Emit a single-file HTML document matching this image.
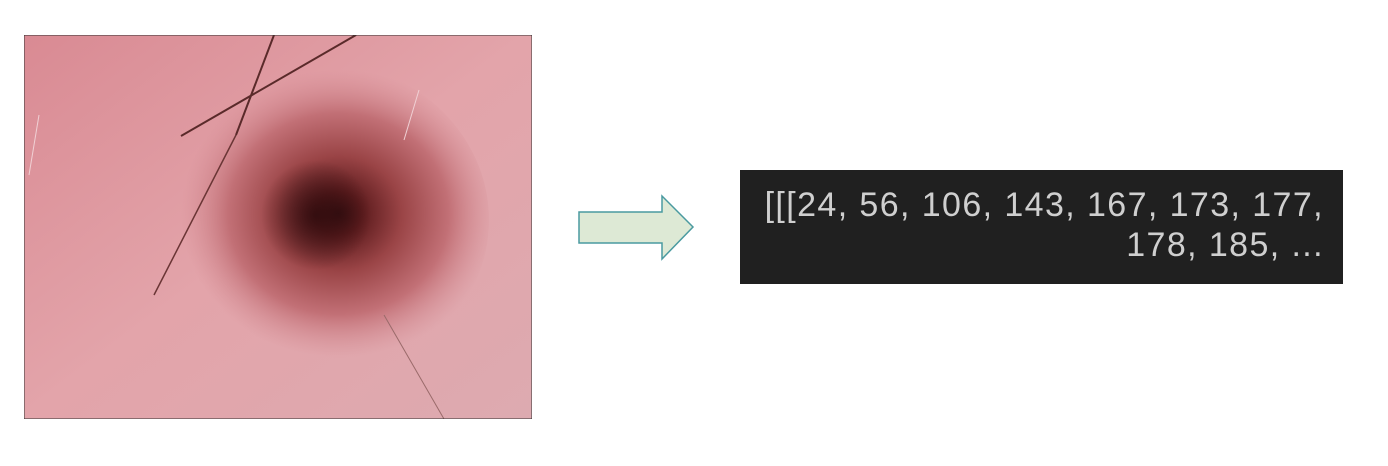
<!DOCTYPE html>
<html><head><meta charset="utf-8"><style>
html,body{margin:0;padding:0;background:#fff;width:1388px;height:466px;overflow:hidden;position:relative;font-family:"Liberation Sans",sans-serif}
#lesion{position:absolute;left:24px;top:35px;width:508px;height:384px}
#arrow{position:absolute;left:0;top:0}
#code{position:absolute;left:740px;top:170px;width:603px;height:114px;background:#202020;box-sizing:border-box}
#code div{position:absolute;right:19px;color:#cfcfcf;font-size:34px;white-space:nowrap;letter-spacing:1.4px}
</style></head><body>
<svg id="lesion" width="508" height="384" viewBox="0 0 508 384">
<defs>
<radialGradient id="g1" cx="0.57" cy="0.48" r="0.45">
<stop offset="0" stop-color="#3a1012"/><stop offset="0.15" stop-color="#5e1c1e"/><stop offset="0.4" stop-color="#9a4446"/><stop offset="0.7" stop-color="#c27076"/><stop offset="1" stop-color="#d48c93" stop-opacity="0"/>
</radialGradient>
<radialGradient id="g2" cx="0.5" cy="0.5" r="0.5">
<stop offset="0" stop-color="#2a0a0c" stop-opacity="0.8"/><stop offset="1" stop-color="#2a0a0c" stop-opacity="0"/>
</radialGradient>
<linearGradient id="bg" x1="0" y1="0" x2="1" y2="1"><stop offset="0" stop-color="#d98a93"/><stop offset="0.5" stop-color="#e3a4aa"/><stop offset="1" stop-color="#ddaab0"/></linearGradient>
</defs>
<rect width="508" height="384" fill="url(#bg)"/>
<ellipse cx="290" cy="185" rx="175" ry="160" fill="url(#g1)"/>
<ellipse cx="292" cy="180" rx="55" ry="55" fill="url(#g2)"/>
<line x1="250" y1="0" x2="212" y2="100" stroke="#5a2a2a" stroke-width="2"/>
<line x1="212" y1="100" x2="130" y2="260" stroke="#6a3535" stroke-width="1.5"/>
<line x1="332" y1="0" x2="157" y2="101" stroke="#5a2a2a" stroke-width="2"/>
<line x1="360" y1="280" x2="420" y2="384" stroke="#9a6a6a" stroke-width="1"/>
<line x1="395" y1="55" x2="380" y2="105" stroke="#f0d0d4" stroke-width="1"/>
<line x1="15" y1="80" x2="5" y2="140" stroke="#f0d0d4" stroke-width="1"/>
<rect width="508" height="384" fill="none" stroke="#333" stroke-width="1"/>
</svg>
<svg id="arrow" width="1388" height="466">
<polygon points="579,212 662,212 662,196 693,227 662,259 662,243 579,243" fill="#dde9d5" stroke="#4a9aa0" stroke-width="1.5"/>
</svg>
<div id="code">
<div style="top:16px">[[[24, 56, 106, 143, 167, 173, 177,</div>
<div style="top:56px">178, 185, ...</div>
</div>
</body></html>
